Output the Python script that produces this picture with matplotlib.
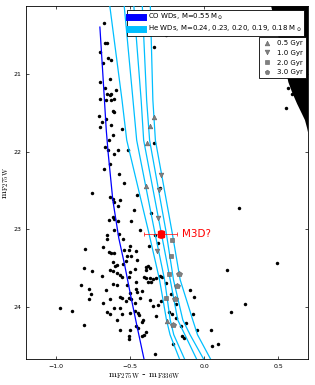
import matplotlib
matplotlib.use("Agg")
import matplotlib.pyplot as plt
from matplotlib.lines import Line2D

# field stars (colour, magnitude)
star_col = [-0.675, -0.670, -0.658, -0.699, -0.681, -0.648, -0.630, -0.632, -0.699, -0.670,
            -0.596, -0.652, -0.636, -0.625, -0.703, -0.663, -0.625, -0.609, -0.618, -0.609,
            -0.710, -0.663, -0.692, -0.699, -0.630, -0.554, -0.614, -0.644, -0.260, -0.341,
            -0.670, -0.648, -0.583, -0.513, -0.605, -0.336, -0.636, -0.677, -0.574, -0.538,
            -0.754, -0.632, -0.614, -0.606, -0.567, -0.453, -0.578, -0.475, -0.356, -0.614,
            -0.641, -0.607, -0.581, -0.493, -0.296, -0.609, -0.657, -0.653, -0.574, -0.544,
            -0.430, -0.331, 0.236, -0.373, -0.502, -0.803, -0.681, -0.539, -0.510, -0.462,
            -0.643, -0.625, -0.606, -0.453, -0.491, -0.312, -0.520, -0.529, -0.618, -0.587,
            -0.603, -0.547, -0.811, -0.754, -0.632, -0.614, -0.587, -0.569, -0.551, -0.688,
            -0.468, -0.390, -0.379, -0.363, -0.395, -0.502, -0.408, -0.390, -0.368, -0.346,
            -0.326, -0.507, -0.457, -0.379, -0.356, -0.297, -0.283, -0.618, -0.591, -0.831,
            -0.775, -0.766, -0.775, -0.663, -0.520, -0.502, -0.462, -0.453, -0.422, -0.569,
            -0.551, -0.636, -0.507, -0.491, -0.435, -0.681, -0.529, -0.468, -0.346, -0.312,
            -0.609, -0.569, -0.654, -0.636, -0.551, -0.502, -0.464, -0.446, -0.440, -0.972,
            -0.888, -0.587, -0.328, -0.413, -0.417, -0.811, -0.462, -0.446, -0.569, -0.497,
            -0.507, -0.507, -0.395, -0.408, -0.417, -0.331, -0.260, -0.099, -0.066, -0.368,
            -0.227, -0.289, -0.193, -0.234, -0.216, -0.073, -0.189, -0.155, -0.122, -0.049,
            0.045, -0.148, -0.133, -0.211, 0.053, 0.092, 0.152, 0.493, 0.273, 0.180,
            0.550, 0.567, 0.594]
star_mag = [20.34, 20.60, 20.60, 20.71, 20.85, 20.79, 20.81, 21.06, 21.10, 21.17,
            21.20, 21.25, 21.26, 21.25, 21.32, 21.33, 21.33, 21.32, 21.47, 21.48,
            21.54, 21.57, 21.61, 21.68, 21.65, 21.71, 21.78, 21.85, 20.49, 20.65,
            21.94, 21.98, 21.97, 21.97, 22.03, 21.88, 22.16, 22.22, 22.28, 22.40,
            22.53, 22.58, 22.61, 22.65, 22.62, 22.55, 22.70, 22.75, 22.79, 22.84,
            22.88, 22.86, 22.89, 22.89, 22.46, 23.01, 23.07, 23.12, 23.06, 23.12,
            23.01, 23.07, 22.72, 23.21, 23.21, 23.25, 23.23, 23.26, 23.27, 23.28,
            23.29, 23.30, 23.30, 23.39, 23.34, 23.18, 23.34, 23.41, 23.42, 23.46,
            23.47, 23.45, 23.50, 23.54, 23.52, 23.54, 23.56, 23.59, 23.61, 23.60,
            23.51, 23.49, 23.47, 23.50, 23.52, 23.55, 23.62, 23.63, 23.63, 23.64,
            23.63, 23.62, 23.68, 23.68, 23.68, 23.60, 23.61, 23.71, 23.72, 23.72,
            23.77, 23.84, 23.90, 23.78, 23.72, 23.82, 23.77, 23.81, 23.80, 23.87,
            23.88, 23.90, 23.88, 23.90, 23.89, 23.95, 23.93, 23.95, 23.99, 23.97,
            24.01, 24.01, 24.07, 24.09, 24.09, 24.08, 24.05, 24.08, 24.10, 24.01,
            24.05, 24.17, 24.12, 24.17, 24.20, 24.24, 24.25, 24.27, 24.30, 24.30,
            24.37, 24.41, 24.32, 24.36, 24.38, 24.61, 23.69, 23.78, 23.87, 23.91,
            23.84, 23.93, 23.96, 24.07, 24.09, 24.09, 24.14, 24.25, 24.21, 24.30,
            24.30, 24.38, 24.40, 24.48, 24.51, 24.48, 23.53, 23.44, 23.96, 24.06,
            21.44, 21.17, 21.25]

# dense main sequence in the top right corner (outline)
ms_col = [0.451, 0.538, 0.567, 0.592, 0.626, 0.659, 0.679, 0.693, 0.70, 0.70]
ms_mag = [20.12, 20.82, 21.10, 21.23, 21.38, 21.51, 21.59, 21.69, 21.75, 20.12]

# CO white dwarf track, 0.55 Msun
co_col = [-0.703, -0.683, -0.660, -0.648, -0.616, -0.576, -0.536, -0.497, -0.455, -0.406]
co_mag = [20.39, 21.00, 21.72, 22.00, 22.62, 23.11, 23.46, 23.84, 24.23, 24.67]

# He white dwarf tracks
he_mag = [20.12, 21.33, 21.85, 23.03, 23.65, 24.17, 24.36, 24.67]
he_col = [
    [-0.636, -0.554, -0.522, -0.375, -0.301, -0.254, -0.230, -0.167],
    [-0.539, -0.480, -0.455, -0.334, -0.267, -0.229, -0.205, -0.133],
    [-0.474, -0.425, -0.408, -0.291, -0.229, -0.178, -0.130, -0.052],
    [-0.417, -0.388, -0.368, -0.257, -0.207, -0.144, -0.095, -0.005],
    [-0.363, -0.346, -0.329, -0.217, -0.162, -0.077, -0.045, 0.042],
]

# cooling ages along the He tracks
age_labels = ["0.5 Gyr", "1.0 Gyr", "2.0 Gyr", "3.0 Gyr"]
age_markers = ["^", "v", "s", "p"]
age_col = [
    [-0.336, -0.368, -0.388, -0.395, -0.254],
    [-0.291, -0.306, -0.309, -0.319],
    [-0.218, -0.227, -0.240, -0.260],
    [-0.167, -0.182, -0.200, -0.211],
]
age_mag = [
    [21.55, 21.67, 21.89, 22.44, 24.18],
    [22.30, 22.49, 22.85, 23.28],
    [23.14, 23.34, 23.57, 23.89],
    [23.58, 23.73, 23.90, 24.24],
]

# candidate
m3d_col, m3d_mag = -0.294, 23.06
m3d_xerr, m3d_yerr = 0.112, 0.05

fig = plt.figure(figsize=(3.15, 3.85), dpi=100)
ax = fig.add_axes([0.083, 0.068, 0.895, 0.916])

ax.fill(ms_col, ms_mag, color="black", lw=0, zorder=1)
ax.plot(star_col, star_mag, "o", color="black", ms=2.5, mec="black", mew=0, zorder=2)

ax.plot(co_col, co_mag, color="blue", lw=0.9, zorder=3)
for cols in he_col:
    ax.plot(cols, he_mag, color="#00BFFF", lw=0.9, zorder=3)

for cols, mags, mk in zip(age_col, age_mag, age_markers):
    size = 4.0 if mk == "p" else 3.4
    ax.plot(cols, mags, mk, color="#808080", mec="#606060", mew=0.4, ms=size, zorder=4)

ax.errorbar(m3d_col, m3d_mag, xerr=m3d_xerr, yerr=m3d_yerr, fmt="s", color="red",
            ms=5, ecolor="red", elinewidth=0.5, capsize=1.5, capthick=0.5, zorder=5)
ax.text(m3d_col + 0.145, m3d_mag, "M3D?", color="red", fontsize=7.5, va="center", zorder=5)

ax.set_xlim(-1.2, 0.7)
ax.set_ylim(24.67, 20.12)
ax.set_xticks([-1.0, -0.5, 0.0, 0.5])
ax.set_yticks([21, 22, 23, 24])
ax.tick_params(direction="in", top=True, right=True, labelsize=4.5, length=2.5, width=0.5)
for s in ax.spines.values():
    s.set_linewidth(0.6)

ax.set_xlabel(r"$\mathrm{m_{F275W}}$ - $\mathrm{m_{F336W}}$", fontsize=7, math_fontfamily="cm")
ax.xaxis.set_label_coords(0.42, -0.035)
ax.set_ylabel(r"$\mathrm{m_{F275W}}$", fontsize=7, math_fontfamily="cm", labelpad=2)

wd_handles = [Line2D([], [], color="blue", lw=5),
              Line2D([], [], color="#00BFFF", lw=5)]
wd_labels = [r"CO WDs, M=0.55 M$_\odot$",
             r"He WDs, M=0.24, 0.23, 0.20, 0.19, 0.18 M$_\odot$"]
leg1 = ax.legend(wd_handles, wd_labels, loc="upper right", bbox_to_anchor=(0.986, 0.989),
                 borderaxespad=0, fontsize=5, fancybox=False, framealpha=1, edgecolor="black",
                 handlelength=2.0, borderpad=0.3, labelspacing=0.25)
leg1.get_frame().set_linewidth(0.6)
ax.add_artist(leg1)

age_handles = [Line2D([], [], ls="none", marker=mk, color="#808080", mec="#606060",
                      mew=0.4, ms=3.4) for mk in age_markers]
leg2 = ax.legend(age_handles, age_labels, loc="upper right", bbox_to_anchor=(0.993, 0.912),
                 borderaxespad=0, fontsize=5, fancybox=False, framealpha=1, edgecolor="black",
                 handlelength=1.5, borderpad=0.4, labelspacing=0.55)
leg2.get_frame().set_linewidth(0.6)

fig.savefig("out.png", dpi=100)
